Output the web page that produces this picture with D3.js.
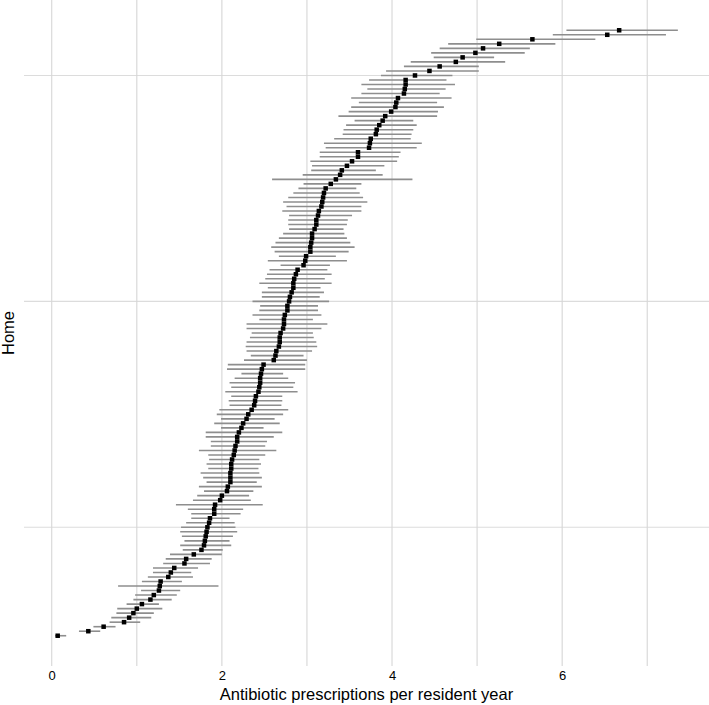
<!DOCTYPE html>
<html>
<head>
<meta charset="utf-8">
<script src="https://cdn.jsdelivr.net/npm/d3@7"></script>
<style>
  body { margin: 0; background: #fff; }
  text { font-family: "Liberation Sans", Arial, sans-serif; fill: #000; }
</style>
</head>
<body>
<svg id="chart"></svg>
<script>
// homes listed from the highest rate (top row) to the lowest (bottom row)
const estimate = [
  6.67, 6.53, 5.65, 5.26, 5.07, 4.98, 4.83, 4.75, 4.56, 4.44,
  4.27, 4.16, 4.16, 4.15, 4.14, 4.07, 4.05, 4.04, 3.99, 3.92,
  3.89, 3.85, 3.82, 3.81, 3.75, 3.74, 3.73, 3.60, 3.60, 3.53,
  3.47, 3.41, 3.39, 3.34, 3.28, 3.22, 3.20, 3.19, 3.18, 3.17,
  3.14, 3.13, 3.11, 3.11, 3.09, 3.06, 3.06, 3.05, 3.04, 3.04,
  2.99, 2.98, 2.96, 2.89, 2.87, 2.85, 2.84, 2.84, 2.82, 2.80,
  2.79, 2.77, 2.77, 2.74, 2.73, 2.73, 2.72, 2.69, 2.68, 2.68,
  2.67, 2.64, 2.63, 2.61, 2.49, 2.47, 2.46, 2.45, 2.45, 2.44,
  2.43, 2.40, 2.39, 2.38, 2.35, 2.31, 2.29, 2.25, 2.23, 2.20,
  2.18, 2.18, 2.16, 2.15, 2.14, 2.12, 2.11, 2.11, 2.10, 2.10,
  2.10, 2.07, 2.06, 2.00, 1.98, 1.92, 1.91, 1.91, 1.86, 1.85,
  1.83, 1.82, 1.81, 1.80, 1.79, 1.76, 1.67, 1.58, 1.56, 1.44,
  1.40, 1.37, 1.28, 1.27, 1.26, 1.20, 1.16, 1.06, 1.00, 0.96,
  0.91, 0.85, 0.61, 0.43, 0.07
];
const lower = [
  6.05, 5.89, 4.99, 4.66, 4.56, 4.46, 4.49, 4.22, 4.14, 3.93,
  3.87, 3.73, 3.64, 3.71, 3.64, 3.52, 3.61, 3.52, 3.49, 3.37,
  3.56, 3.46, 3.43, 3.42, 3.32, 3.20, 3.22, 3.15, 3.15, 3.04,
  3.06, 3.05, 2.95, 2.59, 2.96, 2.90, 2.84, 2.78, 2.72, 2.76,
  2.71, 2.79, 2.78, 2.78, 2.79, 2.72, 2.67, 2.63, 2.58, 2.62,
  2.67, 2.54, 2.69, 2.56, 2.53, 2.51, 2.44, 2.54, 2.47, 2.47,
  2.36, 2.45, 2.44, 2.36, 2.44, 2.29, 2.29, 2.35, 2.33, 2.29,
  2.28, 2.29, 2.34, 2.26, 2.07, 2.06, 2.23, 2.15, 2.09, 2.11,
  2.04, 2.11, 2.08, 2.09, 1.97, 1.94, 1.99, 1.91, 1.99, 1.81,
  1.81, 1.87, 1.87, 1.73, 1.84, 1.85, 1.82, 1.84, 1.75, 1.78,
  1.82, 1.73, 1.79, 1.71, 1.66, 1.46, 1.60, 1.64, 1.64, 1.58,
  1.52, 1.51, 1.53, 1.56, 1.51, 1.54, 1.39, 1.34, 1.31, 1.19,
  1.19, 1.13, 1.06, 0.78, 1.05, 0.98, 0.96, 0.88, 0.77, 0.76,
  0.70, 0.68, 0.49, 0.32, 0.04
];
const upper = [
  7.36, 7.22, 6.39, 5.92, 5.62, 5.56, 5.20, 5.33, 5.02, 5.02,
  4.71, 4.64, 4.74, 4.63, 4.56, 4.70, 4.53, 4.61, 4.54, 4.53,
  4.25, 4.29, 4.25, 4.23, 4.22, 4.35, 4.29, 4.10, 4.08, 4.06,
  3.91, 3.81, 3.89, 4.24, 3.64, 3.58, 3.62, 3.66, 3.71, 3.64,
  3.64, 3.53, 3.48, 3.47, 3.43, 3.44, 3.47, 3.51, 3.56, 3.49,
  3.34, 3.47, 3.27, 3.24, 3.29, 3.21, 3.29, 3.16, 3.20, 3.15,
  3.26, 3.13, 3.13, 3.17, 3.07, 3.24, 3.17, 3.07, 3.08, 3.11,
  3.12, 3.06, 2.96, 3.00, 2.98, 2.98, 2.72, 2.78, 2.86, 2.84,
  2.89, 2.71, 2.71, 2.70, 2.78, 2.72, 2.62, 2.68, 2.49, 2.71,
  2.61, 2.53, 2.51, 2.64, 2.51, 2.44, 2.46, 2.43, 2.44, 2.47,
  2.41, 2.47, 2.37, 2.32, 2.34, 2.48, 2.25, 2.22, 2.09, 2.15,
  2.16, 2.18, 2.13, 2.09, 2.11, 2.01, 2.00, 1.88, 1.86, 1.72,
  1.64, 1.66, 1.53, 1.96, 1.51, 1.47, 1.41, 1.26, 1.30, 1.20,
  1.17, 1.04, 0.75, 0.57, 0.17
];
const xTicks = [0, 2, 4, 6];
const xMinor = [1, 3, 5, 7];
const yGrid = [25, 75, 125];

const w = 709;
const h = 705;
const margin = { top: 0, right: 0, bottom: 39, left: 24 };

const n = estimate.length;
const data = estimate.map((d, i) => ({ rank: n - i, est: d, lo: lower[i], hi: upper[i] }));

const svg = d3.select('#chart').attr('width', w).attr('height', h);

// ggplot style 5% padding on both axes
const xMin = d3.min(lower), xMax = d3.max(upper);
const xPad = (xMax - xMin) * 0.05;
const x = d3.scaleLinear()
  .domain([xMin - xPad, xMax + xPad])
  .range([margin.left, w - margin.right]);

const yPad = (n - 1) * 0.05;
const y = d3.scaleLinear()
  .domain([1 - yPad, n + yPad])
  .range([h - margin.bottom, margin.top]);

const grid = svg.append('g').attr('class', 'grid');

grid.selectAll('line.h')
  .data(yGrid)
  .enter().append('line')
  .attr('x1', margin.left).attr('x2', w - margin.right)
  .attr('y1', (d) => y(d)).attr('y2', (d) => y(d))
  .attr('stroke', '#dcdcdc').attr('stroke-width', 1.1);

grid.selectAll('line.v')
  .data(xTicks.concat(xMinor))
  .enter().append('line')
  .attr('x1', (d) => x(d)).attr('x2', (d) => x(d))
  .attr('y1', margin.top).attr('y2', h - margin.bottom)
  .attr('stroke', '#d6d6d6').attr('stroke-width', 1.1);

const row = svg.selectAll('g.home').data(data).enter().append('g').attr('class', 'home');

row.append('line')
  .attr('x1', (d) => x(d.lo))
  .attr('x2', (d) => x(d.hi))
  .attr('y1', (d) => y(d.rank))
  .attr('y2', (d) => y(d.rank))
  .attr('stroke', '#8e8e8e')
  .attr('stroke-width', 1.6);

row.append('rect')
  .attr('x', (d) => x(d.est) - 2.25)
  .attr('y', (d) => y(d.rank) - 2.25)
  .attr('width', 4.5)
  .attr('height', 4.5)
  .attr('fill', '#000');

const xAxis = svg.append('g')
  .attr('transform', `translate(0, ${h - margin.bottom})`)
  .call(d3.axisBottom(x).tickValues(xTicks).tickSize(0).tickPadding(5).tickFormat(d3.format('d')));
xAxis.select('.domain').remove();
xAxis.selectAll('text').style('font-size', '13px').style('font-family', '"Liberation Sans", Arial, sans-serif').attr('fill', '#000');

svg.append('text')
  .attr('x', (margin.left + w - margin.right) / 2)
  .attr('y', 700)
  .attr('text-anchor', 'middle')
  .style('font-size', '16.5px')
  .text('Antibiotic prescriptions per resident year');

svg.append('text')
  .attr('transform', `translate(14, ${(margin.top + h - margin.bottom) / 2}) rotate(-90)`)
  .attr('text-anchor', 'middle')
  .style('font-size', '16.5px')
  .text('Home');
</script>
</body>
</html>
